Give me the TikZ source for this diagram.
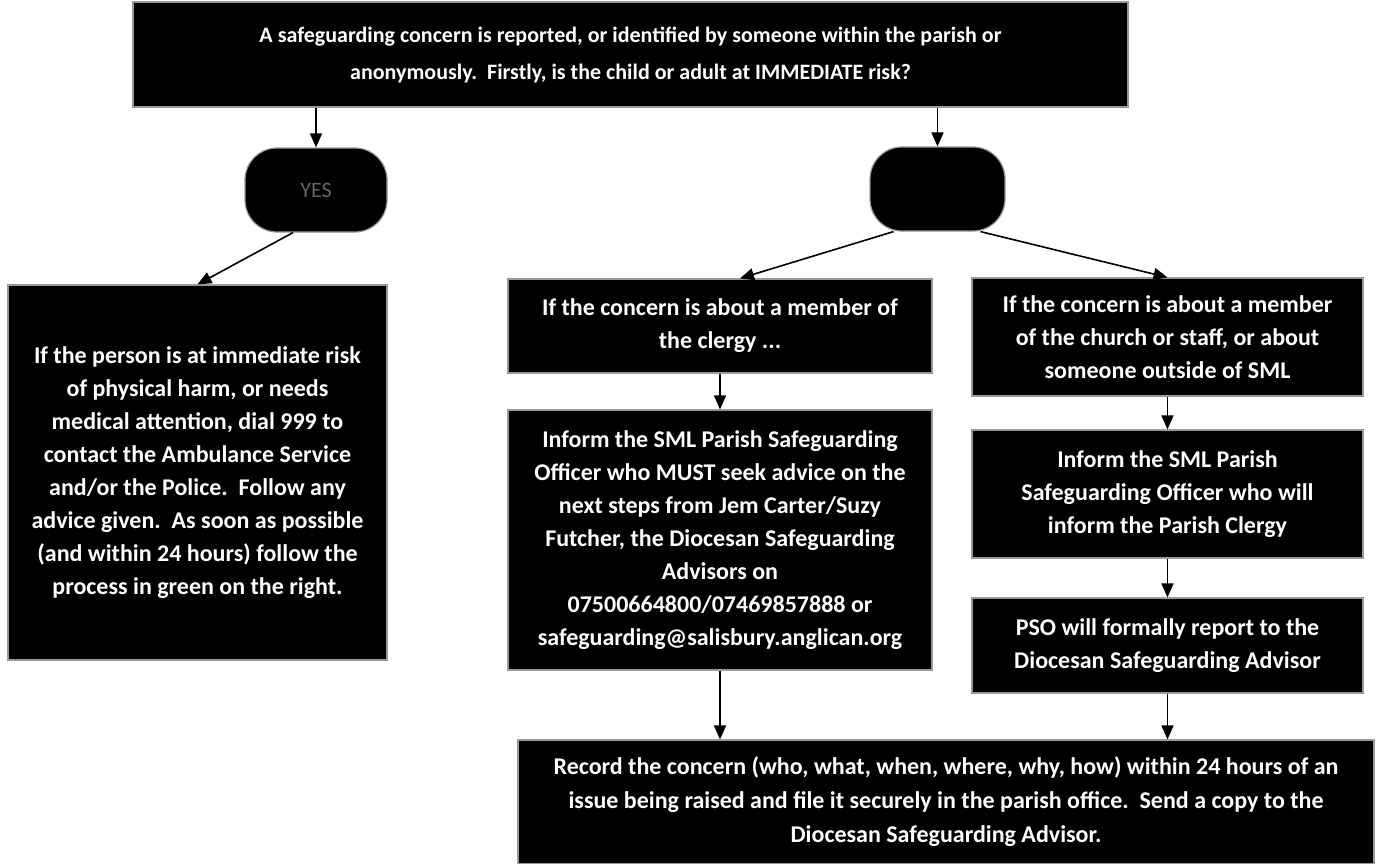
\documentclass[tikz,border=0pt]{standalone}
\usepackage{fontspec}
\setmainfont{Carlito}
\usetikzlibrary{positioning,calc,arrows.meta}

\begin{document}
\begin{tikzpicture}[x=1pt, y=-1pt,
    box/.style={draw=black!40, line width=1.2pt, fill=black, text=white, align=center, inner sep=0pt, font=\bfseries\fontsize{24}{33}\selectfont},
    pill/.style={box, rounded corners=32pt},
    line/.style={line width=1.6pt, -{Triangle[length=14pt,width=12pt]}}]
    \useasboundingbox (0,0) rectangle (1381,863);

    \node [box, minimum width=995pt, minimum height=105pt, font=\bfseries\fontsize{22}{37}\selectfont] (concern) at (630.5,54.5) {A safeguarding concern is reported, or identified by someone within the parish or\\ anonymously.\ \ Firstly, is the child or adult at IMMEDIATE risk?};

    \node [pill, minimum width=142pt, minimum height=84pt, text=black!60, font=\fontsize{22}{26}\selectfont] (yes) at (316,190) {YES};
    \node [pill, minimum width=135pt, minimum height=84pt] (no) at (937.5,189) {};

    \node [box, minimum width=379pt, minimum height=375pt] (harm) at (197.5,472.5) {If the person is at immediate risk\\ of physical harm, or needs\\ medical attention, dial 999 to\\ contact the Ambulance Service\\ and/or the Police.\ \ Follow any\\ advice given.\ \ As soon as possible\\ (and within 24 hours) follow the\\ process in green on the right.};

    \node [box, minimum width=424pt, minimum height=94pt] (clergy) at (720,326) {If the concern is about a member of\\ the clergy ...};
    \node [box, minimum width=391pt, minimum height=118pt] (church) at (1167.5,337) {If the concern is about a member\\ of the church or staff, or about\\ someone outside of SML};

    \node [box, minimum width=424pt, minimum height=260pt] (informA) at (720,540) {Inform the SML Parish Safeguarding\\ Officer who MUST seek advice on the\\ next steps from Jem Carter/Suzy\\ Futcher, the Diocesan Safeguarding\\ Advisors on\\ 07500664800/07469857888 or\\ safeguarding@salisbury.anglican.org};
    \node [box, minimum width=391pt, minimum height=128pt] (informB) at (1167.5,494) {Inform the SML Parish\\ Safeguarding Officer who will\\ inform the Parish Clergy};
    \node [box, minimum width=391pt, minimum height=95pt] (pso) at (1167.5,645.5) {PSO will formally report to the\\ Diocesan Safeguarding Advisor};

    \node [box, minimum width=856pt, minimum height=124pt, font=\bfseries\fontsize{24}{34}\selectfont] (record) at (946,802) {Record the concern (who, what, when, where, why, how) within 24 hours of an\\ issue being raised and file it securely in the parish office.\ \ Send a copy to the\\ Diocesan Safeguarding Advisor.};

    % connectors
    \draw [line] (concern.south -| yes) -- (yes);
    \draw [line] (concern.south -| no) -- (no);
    \draw [line] ([xshift=-23pt]yes.south) -- (harm.north);
    \draw [line] ([xshift=-44pt]no.south) -- ([xshift=20pt]clergy.north);
    \draw [line] ([xshift=43pt]no.south) -- (church.north);
    \draw [line] (clergy.south) -- (informA.north);
    \draw [line] (church.south) -- (informB.north);
    \draw [line] (informB.south) -- (pso.north);
    \draw [line] (informA.south) -- (informA.south |- record.north);
    \draw [line] (pso.south) -- (pso.south |- record.north);
\end{tikzpicture}
\end{document}
